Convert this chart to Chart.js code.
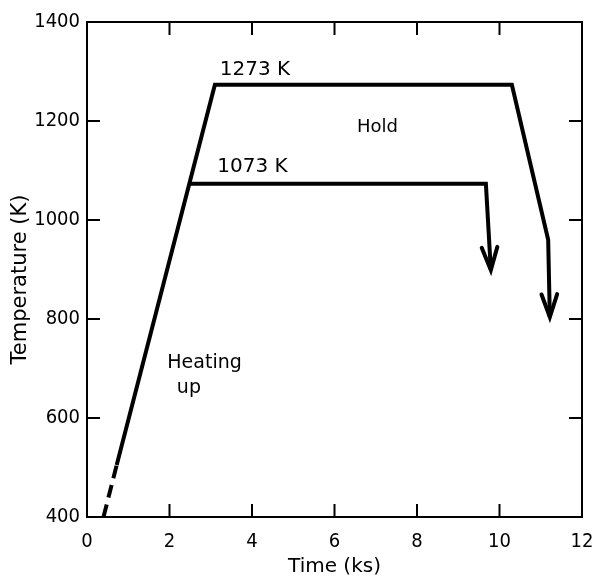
<!DOCTYPE html>
<html>
<head>
<meta charset="utf-8">
<script src="https://cdn.jsdelivr.net/npm/chart.js@4"></script>
<style>
html,body{margin:0;padding:0;background:#fff;}
canvas{display:block;}
</style>
</head>
<body>
<canvas id="c" width="593" height="576"></canvas>
<script>
// ---- data ----
const xTicks = [0, 2, 4, 6, 8, 10, 12];
const yTicks = [400, 600, 800, 1000, 1200, 1400];
// dashed start of heating
const heatTime = [0.4, 0.72];
const heatTemp = [400, 505];
// 1273 K run
const hiTime = [0.72, 3.1, 10.3, 11.18, 11.22];
const hiTemp = [505, 1273, 1273, 960, 804];
// 1073 K run
const loTime = [2.5, 9.67, 9.79];
const loTemp = [1073, 1073, 899];
// text notes (data coordinates)
const noteText = ['1273 K', '1073 K', 'Hold', 'Heating', 'up'];
const noteTime = [4.07, 4.01, 7.04, 2.85, 2.47];
const noteTemp = [1303, 1107, 1188, 711, 661];

const pts = (xs, ys) => xs.map((v, i) => ({x: v, y: ys[i]}));
const tickFont = {family: '"DejaVu Sans Condensed", "DejaVu Sans"', size: 20};

const deco = {
  id: 'deco',
  afterDatasetsDraw(chart) {
    const {ctx, chartArea: a, scales: {x, y}} = chart;
    ctx.save();
    ctx.strokeStyle = '#000';
    ctx.lineWidth = 2;
    const L = 13;
    ctx.beginPath();
    x.ticks.forEach(t => {
      const p = x.getPixelForValue(t.value);
      ctx.moveTo(p, a.bottom); ctx.lineTo(p, a.bottom - L);
      ctx.moveTo(p, a.top); ctx.lineTo(p, a.top + L);
    });
    y.ticks.forEach(t => {
      const p = y.getPixelForValue(t.value);
      ctx.moveTo(a.left, p); ctx.lineTo(a.left + L, p);
      ctx.moveTo(a.right, p); ctx.lineTo(a.right - L, p);
    });
    ctx.stroke();
    // arrow heads
    ctx.lineWidth = 4;
    ctx.lineCap = 'round';
    [1, 2].forEach(i => {
      const d = chart.getDatasetMeta(i).data;
      const p = d[d.length - 1], q = d[d.length - 2];
      const ang = Math.atan2(p.y - q.y, p.x - q.x);
      const len = 24, spread = 19 * Math.PI / 180;
      ctx.beginPath();
      ctx.moveTo(p.x - len * Math.cos(ang - spread), p.y - len * Math.sin(ang - spread));
      ctx.lineTo(p.x, p.y);
      ctx.lineTo(p.x - len * Math.cos(ang + spread), p.y - len * Math.sin(ang + spread));
      ctx.stroke();
    });
    // notes
    ctx.fillStyle = '#000';
    ctx.textAlign = 'center';
    ctx.textBaseline = 'middle';
    const sizes = [20, 20, 18, 19, 19];
    noteText.forEach((t, i) => {
      ctx.font = sizes[i] + 'px "DejaVu Sans"';
      ctx.fillText(t, x.getPixelForValue(noteTime[i]), y.getPixelForValue(noteTemp[i]));
    });
    ctx.restore();
  }
};

const lineStyle = {borderColor: '#000', borderWidth: 4, pointRadius: 0, showLine: true, fill: false, tension: 0, borderJoinStyle: 'miter', borderCapStyle: 'butt'};

new Chart(document.getElementById('c'), {
  type: 'scatter',
  data: {
    datasets: [
      Object.assign({data: pts(heatTime, heatTemp), borderDash: [13, 7]}, lineStyle),
      Object.assign({data: pts(hiTime, hiTemp)}, lineStyle),
      Object.assign({data: pts(loTime, loTemp)}, lineStyle)
    ]
  },
  options: {
    responsive: false,
    devicePixelRatio: 1,
    animation: false,
    layout: {padding: {top: 22, right: 11, left: 0, bottom: 0}},
    plugins: {legend: {display: false}, tooltip: {enabled: false}},
    scales: {
      x: {
        type: 'linear', min: 0, max: 12,
        afterBuildTicks: s => { s.ticks = xTicks.map(v => ({value: v})); },
        afterFit: s => { s.height = 59; s.paddingLeft = 0; s.paddingRight = 0; },
        grid: {display: false, drawTicks: false},
        border: {display: true, color: '#000', width: 2},
        ticks: {color: '#000', padding: 13, autoSkip: false, maxRotation: 0, font: tickFont, callback: v => String(v)},
        title: {display: true, text: 'Time (ks)', color: '#000', font: {family: 'DejaVu Sans', size: 20}, padding: {top: 0, bottom: -3}}
      },
      y: {
        type: 'linear', min: 400, max: 1400,
        afterBuildTicks: s => { s.ticks = yTicks.map(v => ({value: v})); },
        afterFit: s => { s.width = 87; s.paddingTop = 0; s.paddingBottom = 0; },
        grid: {display: false, drawTicks: false},
        border: {display: true, color: '#000', width: 2},
        ticks: {color: '#000', padding: 7, autoSkip: false, font: tickFont, callback: v => String(v)},
        title: {display: true, text: 'Temperature (K)   ', color: '#000', font: {family: 'DejaVu Sans', size: 21}, padding: {top: 8, bottom: 0}}
      }
    }
  },
  plugins: [deco, {
    id: 'frame',
    afterDraw(chart) {
      const {ctx, chartArea: a} = chart;
      ctx.save();
      ctx.strokeStyle = '#000';
      ctx.lineWidth = 2;
      ctx.strokeRect(a.left, a.top, a.right - a.left, a.bottom - a.top);
      ctx.restore();
    }
  }]
});
</script>
</body>
</html>
